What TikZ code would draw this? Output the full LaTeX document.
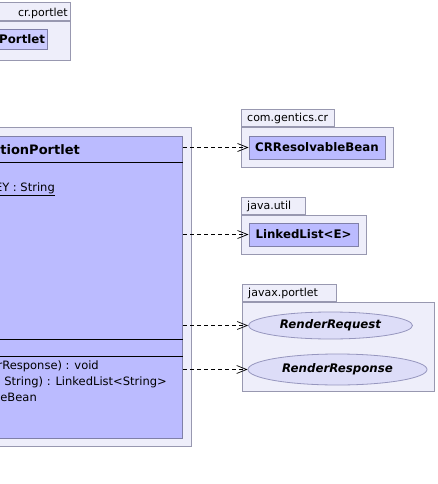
\documentclass[tikz,border=0pt]{standalone}
\usepackage{fontspec}
\setmainfont{DejaVu Sans}
\usepackage{tikz}
\usetikzlibrary{arrows.meta,positioning,shapes.geometric,calc}
\definecolor{pkgfill}{RGB}{238,238,250}
\definecolor{pkgline}{RGB}{152,152,176}
\definecolor{clsfill}{RGB}{187,187,255}
\definecolor{clsfilllight}{RGB}{204,204,255}
\definecolor{clsline}{RGB}{128,128,168}
\definecolor{ellfill}{RGB}{221,221,248}
\definecolor{ellline}{RGB}{150,150,190}
\tikzset{>={Straight Barb[length=10pt,width=8pt]},
    pkgbody/.style={draw=pkgline, fill=pkgfill, line width=1pt, inner sep=0pt},
    pkgtab/.style={pkgbody, minimum height=17pt},
    tabtext/.style={inner sep=0pt, font=\fontsize{11}{13}\selectfont},
    clsbox/.style={draw=clsline, fill=clsfill, line width=1pt, inner sep=0pt},
    clsname/.style={inner sep=0pt, font=\bfseries\fontsize{11.8}{14}\selectfont},
    clsdiv/.style={draw=black, line width=1pt},
    member/.style={inner sep=0pt, anchor=base east, font=\fontsize{11.5}{13}\selectfont},
    iface/.style={ellipse, draw=ellline, fill=ellfill, line width=0.8pt, inner sep=0pt,
        font=\bfseries\itshape\fontsize{11.8}{14}\selectfont},
    dep/.style={->, dash pattern=on 4pt off 3pt, line width=0.7pt}}
\begin{document}
\begin{tikzpicture}[x=1pt, y=-1pt]
    \useasboundingbox (0,0) rectangle (437,484);
    \clip (0,0) rectangle (437,484);

    % package of the base class, cut at the left edge
    \node[pkgbody, anchor=north east, minimum width=100pt, minimum height=18.3pt] (ptab) at (71,1.7) {};
    \node[pkgbody, anchor=north east, minimum width=100pt, minimum height=39pt] (ppkg) at (ptab.south east) {};
    \node[tabtext, anchor=base east] (ptab-txt) at (68,16.5) {cr.portlet};
    \node[clsbox, fill=clsfilllight, anchor=north east, minimum width=80pt, minimum height=20pt] (portlet) at (48.3,29) {};
    \node[clsname, anchor=east] (portlet-txt) at ([xshift=-3pt]portlet.east) {Portlet};

    % the portlet class itself
    \node[pkgbody, anchor=north east, minimum width=220pt, minimum height=319pt] (mainpkg) at (191.5,127) {};
    \node[clsbox, anchor=north east, minimum width=210pt, minimum height=302pt] (cls) at (183.3,136) {};
    \foreach \dy in {26,203,220}
        \draw[clsdiv] ([yshift=-\dy pt]cls.north west) -- ([yshift=-\dy pt]cls.north east);
    \node[inner sep=0pt, anchor=base east, font=\bfseries\fontsize{13}{15}\selectfont] (cls-name) at (80,154) {tionPortlet};
    \node[member] (attr) at (55,191) {\underline{EY : String}};
    \node[member] (op1) at (99,369) {rResponse) : void};
    \node[member] (op2) at (167,385) {n, String) : LinkedList<String>};
    \node[member] (op3) at (37,401) {eBean};

    % packages on the right
    \foreach \pk/\px/\py/\pw/\ph/\tw/\pl in {gcr/241/127/152/40/93/com.gentics.cr,
            jutil/241/215/125/39/64/java.util, jxp/242/302/192/89/94/javax.portlet} {
        \node[pkgbody, anchor=north west, minimum width=\pw pt, minimum height=\ph pt] (\pk) at (\px,\py) {};
        \node[pkgtab, anchor=south west, minimum width=\tw pt] (\pk-tab) at (\pk.north west) {};
        \node[tabtext, anchor=west] (\pk-txt) at ([xshift=6pt]\pk-tab.west) {\pl};
    }
    \node[clsbox, clsname, minimum width=136pt, minimum height=23pt] (crbean) at (317,147.5) {CRResolvableBean};
    \node[clsbox, clsname, minimum width=109pt, minimum height=23pt] (llist) at (303.5,234.5) {LinkedList<E>};
    \node[iface, minimum width=164pt, minimum height=27pt] (rreq) at (330.5,325.5) {RenderRequest};
    \node[iface, minimum width=179pt, minimum height=31pt] (rresp) at (337.5,369.5) {RenderResponse};

    % dependencies
    \foreach \tgt in {crbean,llist,rreq,rresp}
        \draw[dep] (cls.east |- \tgt.west) -- (\tgt.west);
\end{tikzpicture}
\end{document}
